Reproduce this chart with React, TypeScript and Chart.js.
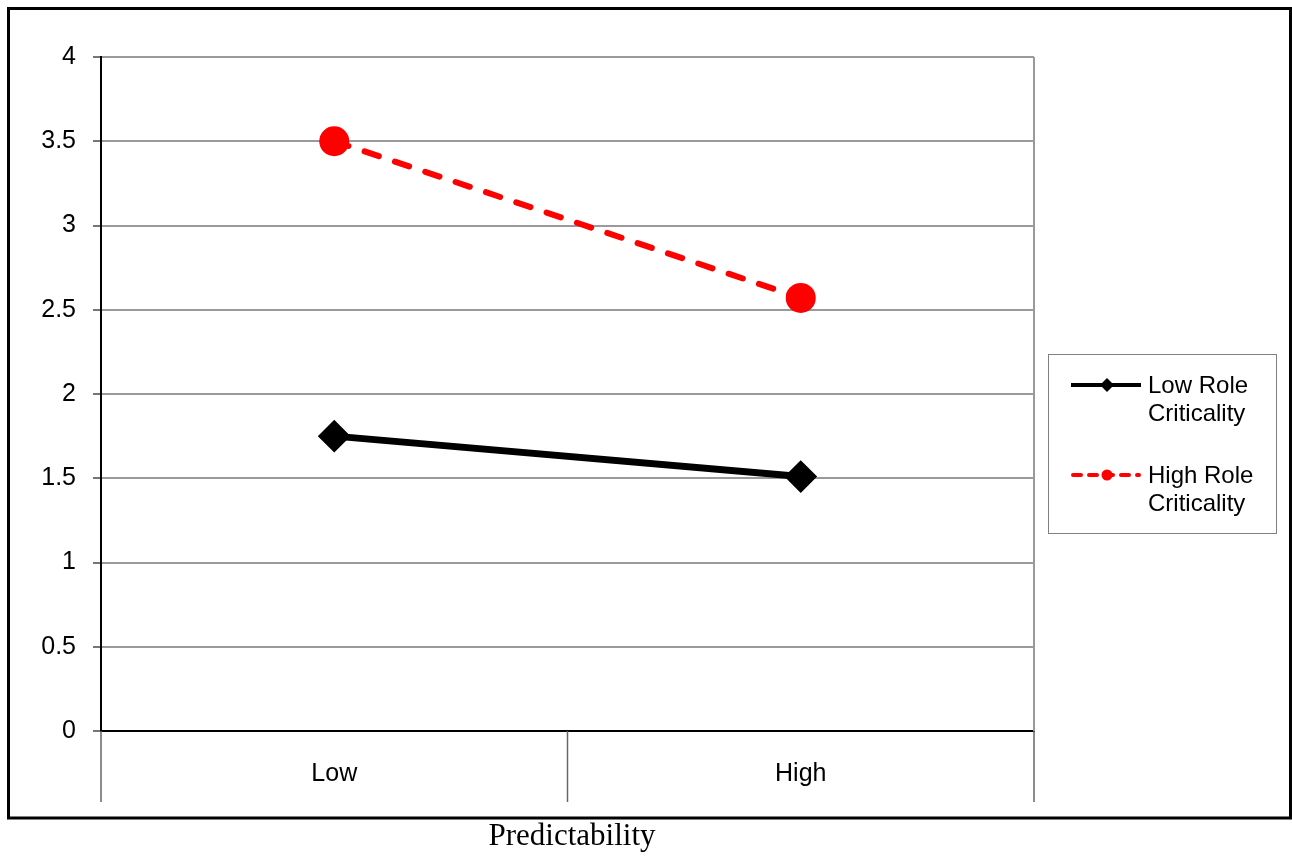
import React, { useEffect, useRef } from "react";
import { Chart, registerables } from "chart.js";

Chart.register(...registerables);

const categories = ["Low", "High"];
const lowRoleValues = [1.75, 1.51];
const highRoleValues = [3.5, 2.57];
const seriesNames = [["Low Role", "Criticality"], ["High Role", "Criticality"]];
const xAxisTitle = "Predictability";
const yMin = 0;
const yMax = 4;
const yStep = 0.5;

const SANS = "'Liberation Sans', Arial, sans-serif";
const SERIF = "'Liberation Serif', 'Times New Roman', serif";

const decorPlugin = {
  id: "decor",
  beforeDatasetsDraw(chart: any) {
    const { ctx, chartArea } = chart;
    const x = chart.scales.x;
    ctx.save();
    ctx.strokeStyle = "#9a9a9a";
    ctx.lineWidth = 2;
    ctx.beginPath();
    ctx.moveTo(chartArea.right, chartArea.top);
    ctx.lineTo(chartArea.right, chartArea.bottom);
    ctx.stroke();
    const p0 = x.getPixelForValue(0);
    const p1 = x.getPixelForValue(1);
    const divs = [chartArea.left, (p0 + p1) / 2, chartArea.right];
    ctx.strokeStyle = "#666";
    ctx.lineWidth = 1.5;
    divs.forEach((d) => {
      ctx.beginPath();
      ctx.moveTo(d, chartArea.bottom);
      ctx.lineTo(d, chartArea.bottom + 71);
      ctx.stroke();
    });
    ctx.restore();
  },
  afterDraw(chart: any) {
    const { ctx } = chart;
    ctx.save();
    ctx.strokeStyle = "#000";
    ctx.lineWidth = 3;
    ctx.strokeRect(8.5, 8.5, 1282, 809.5);

    ctx.strokeStyle = "#808080";
    ctx.lineWidth = 1;
    ctx.strokeRect(1048.5, 354.5, 228, 179);

    const lx0 = 1071;
    const lx1 = 1141;
    const mx = 1107;
    let y = 385;
    ctx.strokeStyle = "#000";
    ctx.lineWidth = 4;
    ctx.setLineDash([]);
    ctx.beginPath();
    ctx.moveTo(lx0, y);
    ctx.lineTo(lx1, y);
    ctx.stroke();
    ctx.fillStyle = "#000";
    ctx.beginPath();
    ctx.moveTo(mx, y - 7);
    ctx.lineTo(mx + 7, y);
    ctx.lineTo(mx, y + 7);
    ctx.lineTo(mx - 7, y);
    ctx.closePath();
    ctx.fill();
    y = 475;
    ctx.strokeStyle = "#ff0000";
    ctx.lineWidth = 4;
    ctx.lineCap = "round";
    ctx.setLineDash([8, 8]);
    ctx.beginPath();
    ctx.moveTo(lx0 + 2, y);
    ctx.lineTo(lx1 - 2, y);
    ctx.stroke();
    ctx.setLineDash([]);
    ctx.fillStyle = "#ff0000";
    ctx.beginPath();
    ctx.arc(mx, y, 5.5, 0, Math.PI * 2);
    ctx.fill();

    ctx.fillStyle = "#000";
    ctx.font = `24px ${SANS}`;
    ctx.textAlign = "left";
    ctx.textBaseline = "middle";
    ctx.fillText(seriesNames[0][0], 1148, 386);
    ctx.fillText(seriesNames[0][1], 1148, 414);
    ctx.fillText(seriesNames[1][0], 1148, 476);
    ctx.fillText(seriesNames[1][1], 1148, 504);

    ctx.font = `31px ${SERIF}`;
    ctx.textAlign = "center";
    ctx.fillText(xAxisTitle, 572, 837);
    ctx.restore();
  },
};

export default function App() {
  const ref = useRef<HTMLCanvasElement | null>(null);

  useEffect(() => {
    if (!ref.current) return;
    const chart = new Chart(ref.current, {
      type: "line",
      data: {
        labels: categories,
        datasets: [
          {
            label: seriesNames[0].join(" "),
            data: lowRoleValues,
            borderColor: "#000",
            backgroundColor: "#000",
            borderWidth: 7,
            pointStyle: "rectRot",
            pointRadius: 15,
            pointBorderWidth: 2,
            pointBackgroundColor: "#000",
            pointBorderColor: "#000",
            tension: 0,
          },
          {
            label: seriesNames[1].join(" "),
            data: highRoleValues,
            borderColor: "#ff0000",
            backgroundColor: "#ff0000",
            borderWidth: 6,
            borderDash: [15, 17],
            borderCapStyle: "round",
            pointStyle: "circle",
            pointRadius: 15,
            pointBorderWidth: 0,
            pointBackgroundColor: "#ff0000",
            tension: 0,
          },
        ],
      },
      options: {
        animation: false,
        responsive: false,
        events: [],
        layout: { padding: { left: 0, top: 57, right: 258, bottom: 0 } },
        plugins: {
          legend: { display: false },
          tooltip: { enabled: false },
        },
        scales: {
          x: {
            type: "category",
            offset: true,
            grid: { drawOnChartArea: false, drawTicks: false },
            border: { display: true, color: "#000", width: 2 },
            ticks: {
              color: "#000",
              font: { family: SANS, size: 25 },
              padding: 28,
            },
            afterFit(scale: any) {
              scale.height = 125;
            },
          },
          y: {
            min: yMin,
            max: yMax,
            ticks: {
              stepSize: yStep,
              color: "#000",
              font: { family: SANS, size: 25 },
              padding: 17,
              callback: (v: any) => String(v),
            },
            grid: {
              color: (c: any) => (c.tick && c.tick.value === 0 ? "#000" : "#9a9a9a"),
              lineWidth: 2,
              tickLength: 8,
              tickColor: "#777",
            },
            border: { display: true, color: "#000", width: 2 },
            afterFit(scale: any) {
              scale.width = 101;
            },
          },
        },
      },
      plugins: [decorPlugin],
    });
    return () => chart.destroy();
  }, []);

  return (
    <div style={{ position: "fixed", left: 0, top: 0, width: 1292, height: 856, background: "#fff" }}>
      <canvas ref={ref} width={1292} height={856} style={{ display: "block" }} />
    </div>
  );
}
